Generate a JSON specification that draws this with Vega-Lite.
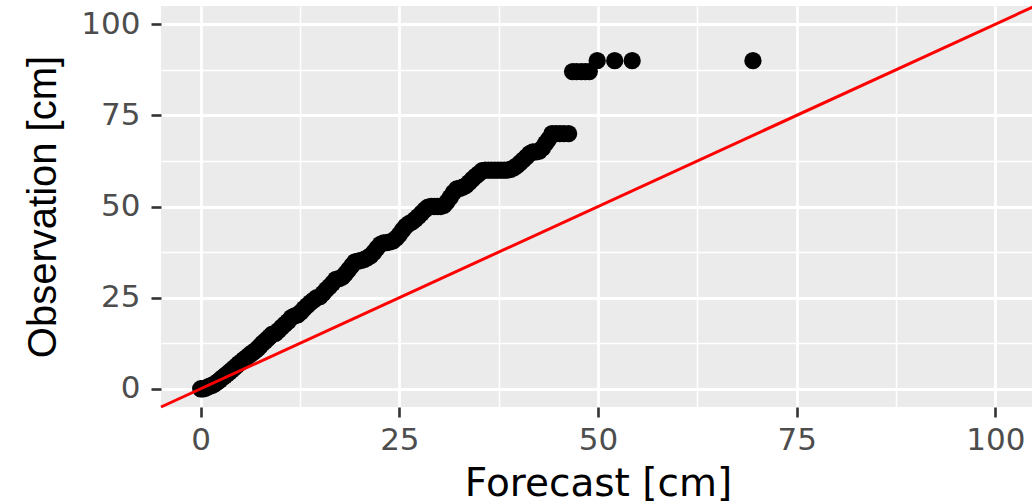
{
  "$schema": "https://vega.github.io/schema/vega-lite/v6.json",
  "width": 874,
  "height": 401,
  "autosize": {"type": "none"},
  "padding": {"left": 161, "top": 6, "right": 0, "bottom": 97},
  "background": "white",
  "config": {
    "view": {"stroke": null, "fill": "#EBEBEB"}
  },
  "datasets": {
    "qq": [
      {"forecast": 0, "observation": 0},
      {"forecast": 0.3, "observation": 0},
      {"forecast": 0.6, "observation": 0.2},
      {"forecast": 0.9, "observation": 0.5},
      {"forecast": 1.2, "observation": 0.8},
      {"forecast": 1.5, "observation": 1},
      {"forecast": 1.8, "observation": 1.4},
      {"forecast": 2.1, "observation": 1.9},
      {"forecast": 2.4, "observation": 2.4},
      {"forecast": 2.7, "observation": 3},
      {"forecast": 3.0, "observation": 3.5},
      {"forecast": 3.3, "observation": 4},
      {"forecast": 3.6, "observation": 4.6},
      {"forecast": 3.9, "observation": 5.1},
      {"forecast": 4.2, "observation": 5.7},
      {"forecast": 4.5, "observation": 6.3},
      {"forecast": 4.8, "observation": 6.9},
      {"forecast": 5.1, "observation": 7.4},
      {"forecast": 5.4, "observation": 8},
      {"forecast": 5.7, "observation": 8.5},
      {"forecast": 6.0, "observation": 9},
      {"forecast": 6.3, "observation": 9.6},
      {"forecast": 6.6, "observation": 10},
      {"forecast": 6.9, "observation": 10.5},
      {"forecast": 7.2, "observation": 11.1},
      {"forecast": 7.5, "observation": 11.8},
      {"forecast": 7.8, "observation": 12.5},
      {"forecast": 8.1, "observation": 13.1},
      {"forecast": 8.4, "observation": 13.7},
      {"forecast": 8.7, "observation": 14.3},
      {"forecast": 9.0, "observation": 15},
      {"forecast": 9.4, "observation": 15.2},
      {"forecast": 9.8, "observation": 16},
      {"forecast": 10.2, "observation": 16.9},
      {"forecast": 10.6, "observation": 17.7},
      {"forecast": 11.0, "observation": 18.5},
      {"forecast": 11.4, "observation": 19.5},
      {"forecast": 11.8, "observation": 20},
      {"forecast": 12.2, "observation": 20.3},
      {"forecast": 12.6, "observation": 21},
      {"forecast": 13.0, "observation": 22},
      {"forecast": 13.4, "observation": 22.8},
      {"forecast": 13.8, "observation": 23.6},
      {"forecast": 14.2, "observation": 24.3},
      {"forecast": 14.6, "observation": 25},
      {"forecast": 15.0, "observation": 25.3},
      {"forecast": 15.4, "observation": 26.2},
      {"forecast": 15.8, "observation": 27.2},
      {"forecast": 16.2, "observation": 28},
      {"forecast": 16.6, "observation": 29},
      {"forecast": 17.0, "observation": 30},
      {"forecast": 17.4, "observation": 30.2},
      {"forecast": 17.8, "observation": 30.6},
      {"forecast": 18.2, "observation": 31.5},
      {"forecast": 18.6, "observation": 32.6},
      {"forecast": 19.0, "observation": 33.7},
      {"forecast": 19.4, "observation": 34.8},
      {"forecast": 19.8, "observation": 35},
      {"forecast": 20.2, "observation": 35.2},
      {"forecast": 20.6, "observation": 35.5},
      {"forecast": 21.0, "observation": 36},
      {"forecast": 21.4, "observation": 36.5},
      {"forecast": 21.8, "observation": 37.5},
      {"forecast": 22.2, "observation": 38.6},
      {"forecast": 22.6, "observation": 39.6},
      {"forecast": 23.0, "observation": 40},
      {"forecast": 23.4, "observation": 40.1},
      {"forecast": 23.8, "observation": 40.3},
      {"forecast": 24.2, "observation": 40.6},
      {"forecast": 24.6, "observation": 41.3},
      {"forecast": 25.0, "observation": 42.3},
      {"forecast": 25.4, "observation": 43.5},
      {"forecast": 25.8, "observation": 44.6},
      {"forecast": 26.2, "observation": 45.3},
      {"forecast": 26.6, "observation": 45.8},
      {"forecast": 27.0, "observation": 46.5},
      {"forecast": 27.4, "observation": 47.3},
      {"forecast": 27.8, "observation": 48.2},
      {"forecast": 28.2, "observation": 49.1},
      {"forecast": 28.6, "observation": 49.8},
      {"forecast": 29.0, "observation": 50},
      {"forecast": 29.4, "observation": 50},
      {"forecast": 29.8, "observation": 50},
      {"forecast": 30.2, "observation": 50},
      {"forecast": 30.6, "observation": 50.3},
      {"forecast": 31.0, "observation": 51.3},
      {"forecast": 31.4, "observation": 52.5},
      {"forecast": 31.8, "observation": 53.8},
      {"forecast": 32.2, "observation": 54.8},
      {"forecast": 32.6, "observation": 55},
      {"forecast": 33.0, "observation": 55.3},
      {"forecast": 33.4, "observation": 55.8},
      {"forecast": 33.8, "observation": 56.6},
      {"forecast": 34.2, "observation": 57.5},
      {"forecast": 34.6, "observation": 58.3},
      {"forecast": 35.0, "observation": 59},
      {"forecast": 35.4, "observation": 59.8},
      {"forecast": 35.8, "observation": 60},
      {"forecast": 36.2, "observation": 60},
      {"forecast": 36.6, "observation": 60},
      {"forecast": 37.0, "observation": 60},
      {"forecast": 37.4, "observation": 60},
      {"forecast": 37.8, "observation": 60},
      {"forecast": 38.2, "observation": 60},
      {"forecast": 38.6, "observation": 60},
      {"forecast": 39.0, "observation": 60.2},
      {"forecast": 39.4, "observation": 60.6},
      {"forecast": 39.8, "observation": 61.2},
      {"forecast": 40.2, "observation": 62},
      {"forecast": 40.6, "observation": 62.8},
      {"forecast": 41.0, "observation": 63.6},
      {"forecast": 41.4, "observation": 64.5},
      {"forecast": 41.8, "observation": 65},
      {"forecast": 42.2, "observation": 65},
      {"forecast": 42.6, "observation": 65.2},
      {"forecast": 43.0, "observation": 66},
      {"forecast": 43.4, "observation": 67.3},
      {"forecast": 43.8, "observation": 68.5},
      {"forecast": 44.2, "observation": 70},
      {"forecast": 44.7, "observation": 70},
      {"forecast": 45.2, "observation": 70},
      {"forecast": 45.7, "observation": 70},
      {"forecast": 46.3, "observation": 70},
      {"forecast": 46.8, "observation": 87},
      {"forecast": 47.3, "observation": 87},
      {"forecast": 47.9, "observation": 87},
      {"forecast": 48.4, "observation": 87},
      {"forecast": 48.9, "observation": 87},
      {"forecast": 49.9, "observation": 90},
      {"forecast": 52.1, "observation": 90},
      {"forecast": 54.3, "observation": 90},
      {"forecast": 69.5, "observation": 90}
    ],
    "ref": [
      {"forecast": -5, "observation": -5},
      {"forecast": 105, "observation": 105}
    ]
  },
  "layer": [
    {
      "data": {"name": "qq"},
      "mark": {"type": "point", "filled": true, "size": 300, "color": "black", "opacity": 1, "strokeWidth": 0},
      "encoding": {
        "x": {
          "field": "forecast", "type": "quantitative",
          "scale": {"domain": [-5, 105], "nice": false, "zero": false},
          "axis": {
            "values": [0, 25, 50, 75, 100],
            "grid": true, "gridColor": "white", "gridWidth": 2.8,
            "domain": false,
            "tickColor": "#333333", "tickWidth": 2.6, "tickSize": 10,
            "labelFont": "DejaVu Sans", "labelFontSize": 31, "labelColor": "#4D4D4D",
            "labelPadding": 8, "labelFlush": false, "labelOverlap": false,
            "title": "Forecast [cm]",
            "titleFont": "DejaVu Sans", "titleFontSize": 39, "titleFontWeight": "normal",
            "titleColor": "black", "titleBaseline": "alphabetic", "titleY": 88
          }
        },
        "y": {
          "field": "observation", "type": "quantitative",
          "scale": {"domain": [-5, 105], "nice": false, "zero": false},
          "axis": {
            "values": [0, 25, 50, 75, 100],
            "grid": true, "gridColor": "white", "gridWidth": 2.8,
            "domain": false,
            "tickColor": "#333333", "tickWidth": 2.6, "tickSize": 10,
            "labelFont": "DejaVu Sans", "labelFontSize": 31, "labelColor": "#4D4D4D",
            "labelPadding": 11, "labelFlush": false, "labelOverlap": false,
            "title": "Observation [cm]",
            "titleFont": "Liberation Sans", "titleFontSize": 40, "titleFontWeight": "normal",
            "titleColor": "black", "titleBaseline": "alphabetic", "titleX": -106, "titleY": 200.5
          }
        }
      }
    },
    {
      "data": {"name": "ref"},
      "mark": {"type": "line", "color": "#FF0000", "strokeWidth": 3},
      "encoding": {
        "x": {
          "field": "forecast", "type": "quantitative",
          "axis": {
            "orient": "bottom",
            "values": [12.5, 37.5, 62.5, 87.5],
            "grid": true, "gridColor": "white", "gridWidth": 1.5,
            "domain": false, "ticks": false, "labels": false, "title": null
          }
        },
        "y": {
          "field": "observation", "type": "quantitative",
          "axis": {
            "orient": "left",
            "values": [12.5, 37.5, 62.5, 87.5],
            "grid": true, "gridColor": "white", "gridWidth": 1.5,
            "domain": false, "ticks": false, "labels": false, "title": null
          }
        }
      }
    }
  ],
  "resolve": {"axis": {"x": "independent", "y": "independent"}}
}
